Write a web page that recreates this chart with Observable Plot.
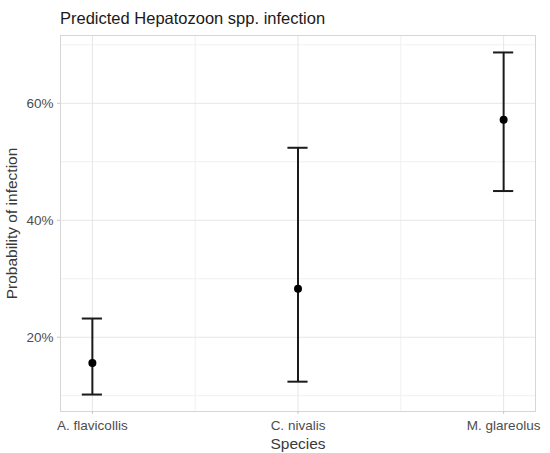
<!DOCTYPE html>
<html>
<head>
<meta charset="utf-8">
<script src="https://cdn.jsdelivr.net/npm/d3@7"></script>
<script src="https://cdn.jsdelivr.net/npm/@observablehq/plot@0.6"></script>
<style>
  body { margin: 0; background: #fff; font-family: "Liberation Sans", Arial, sans-serif; }
  #title {
    height: 30px;
    box-sizing: border-box;
    padding: 9px 0 0 60px;
    font-size: 16.5px;
    line-height: 18px;
    color: #1a1a1a;
  }
</style>
</head>
<body>
<div id="title">Predicted Hepatozoon spp. infection</div>
<div id="vis"></div>
<script>
const species = ["A. flavicollis", "C. nivalis", "M. glareolus"]
const estimate = [15.6, 28.3, 57.2]
const lower = [10.2, 12.4, 45.0]
const upper = [23.2, 52.4, 68.7]

const majorY = [20, 40, 60]
const minorY = [10, 30, 50, 70]
const majorX = [1, 2, 3]
const minorX = [1.5, 2.5]

const data = species.map((s, k) => ({
  i: k + 1,
  species: s,
  estimate: estimate[k],
  lower: lower[k],
  upper: upper[k],
}))

const cap = 0.049 // half width of the whisker caps, in x units

let chart = Plot.plot({
  width: 550,
  height: 423,
  marginTop: 5,
  marginBottom: 42,
  marginLeft: 60,
  marginRight: 15,
  x: { type: "linear", domain: [0.845, 3.155] },
  y: { domain: [7.3, 71.6] },
  marks: [
    // grid
    Plot.ruleY(minorY, { stroke: "#f0f0f0", strokeWidth: 1 }),
    Plot.ruleX(minorX, { stroke: "#f0f0f0", strokeWidth: 1 }),
    Plot.ruleY(majorY, { stroke: "#e6e6e6", strokeWidth: 1 }),
    Plot.ruleX(majorX, { stroke: "#e6e6e6", strokeWidth: 1 }),
    Plot.frame({ stroke: "#d6d6d6", strokeWidth: 1 }),
    Plot.axisY({
      ticks: majorY,
      tickFormat: d => d + "%",
      tickSize: 3,
      tickPadding: 4,
      stroke: "#c8c8c8",
      fill: "#4d4d4d",
      fontSize: 13.5,
      label: null,
    }),
    Plot.axisX({
      ticks: majorX,
      tickFormat: d => species[d - 1],
      tickSize: 3,
      tickPadding: 6,
      stroke: "#c8c8c8",
      fill: "#4d4d4d",
      fontSize: 13.5,
      label: null,
    }),
    Plot.text(["Species"], {
      frameAnchor: "bottom",
      lineAnchor: "bottom",
      dy: 37,
      fontSize: 15.5,
      fill: "#3a3a3a",
    }),
    Plot.text(["Probability of infection"], {
      frameAnchor: "left",
      textAnchor: "middle",
      lineAnchor: "top",
      rotate: -90,
      dx: -55,
      fontSize: 15.5,
      fill: "#3a3a3a",
    }),
    // error bars
    Plot.ruleX(data, { x: "i", y1: "lower", y2: "upper", stroke: "#1a1a1a", strokeWidth: 2 }),
    Plot.ruleY(data, { y: "upper", x1: d => d.i - cap, x2: d => d.i + cap, stroke: "#1a1a1a", strokeWidth: 2 }),
    Plot.ruleY(data, { y: "lower", x1: d => d.i - cap, x2: d => d.i + cap, stroke: "#1a1a1a", strokeWidth: 2 }),
    Plot.dot(data, { x: "i", y: "estimate", r: 4, fill: "#000", stroke: "none" }),
  ],
  style: {
    fontFamily: "'Liberation Sans', Arial, sans-serif",
    background: "#fff",
    overflow: "visible",
  },
})
d3.select("#vis").append(() => chart)
</script>
</body>
</html>
